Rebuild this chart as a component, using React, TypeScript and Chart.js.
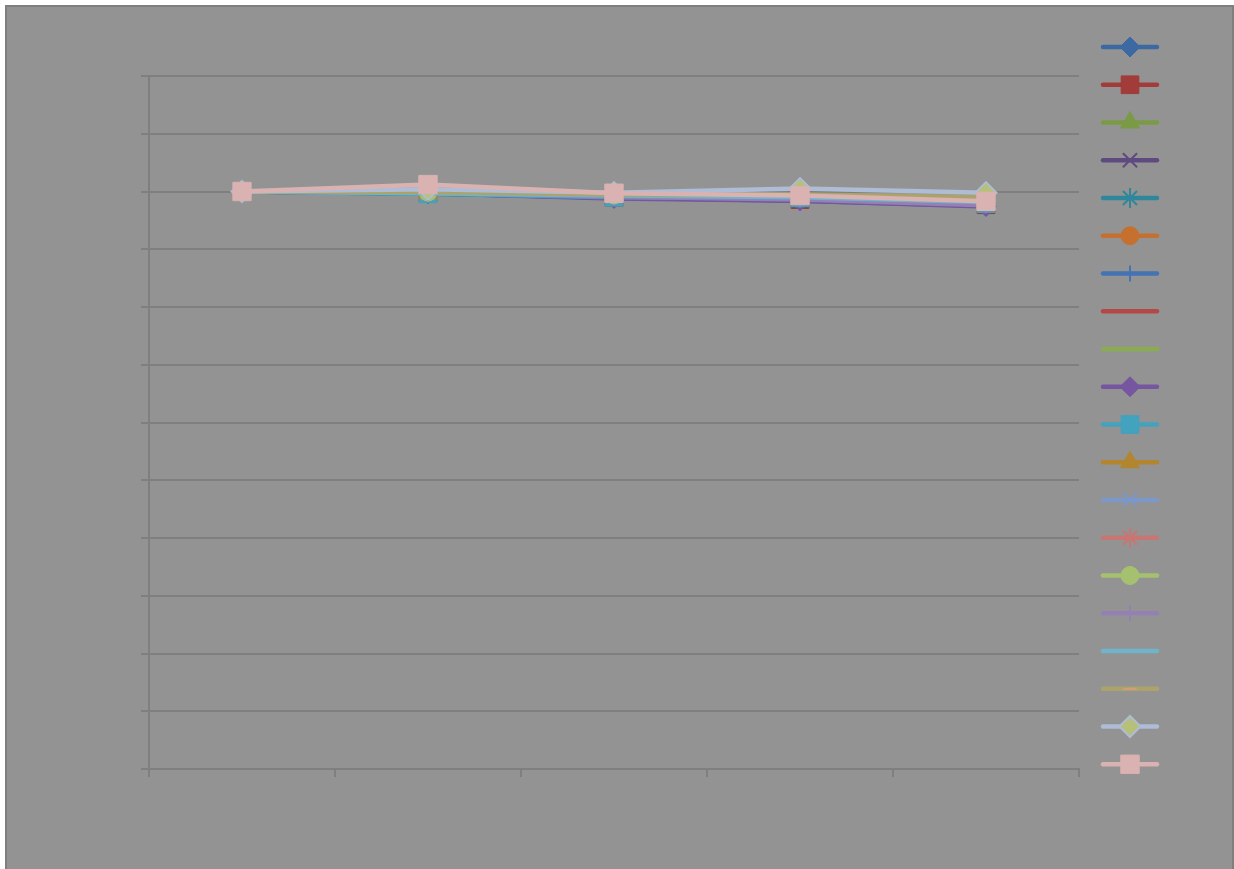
import React, { useEffect, useRef } from "react";
import { Chart, registerables } from "chart.js";
import { drawPoint } from "chart.js/helpers";

Chart.register(...registerables);

const categories = ["1", "2", "3", "4", "5"];

const s1 = [1.0, 0.997, 0.989, 0.984, 0.975];
const s2 = [1.0, 0.998, 0.99, 0.986, 0.977];
const s3 = [1.0, 0.996, 0.991, 0.99, 0.98];
const s4 = [1.0, 0.997, 0.989, 0.985, 0.976];
const s5 = [1.0, 0.996, 0.99, 0.988, 0.978];
const s6 = [1.0, 0.998, 0.992, 0.99, 0.98];
const s7 = [1.0, 0.997, 0.99, 0.987, 0.977];
const s8 = [1.0, 0.998, 0.991, 0.988, 0.978];
const s9 = [1.0, 0.997, 0.992, 0.99, 0.981];
const s10 = [1.0, 0.997, 0.988, 0.984, 0.974];
const s11 = [1.0, 0.996, 0.99, 0.989, 0.979];
const s12 = [1.0, 0.998, 0.993, 0.992, 0.985];
const s13 = [1.0, 0.998, 0.992, 0.991, 0.983];
const s14 = [1.0, 0.999, 0.993, 0.992, 0.984];
const s15 = [1.0, 0.999, 0.994, 0.994, 0.988];
const s16 = [1.0, 0.998, 0.991, 0.986, 0.976];
const s17 = [1.0, 0.997, 0.993, 0.99, 0.982];
const s18 = [1.0, 0.999, 0.995, 0.995, 0.99];
const s19 = [1.0, 1.004, 0.998, 1.005, 0.998];
const s20 = [1.0, 1.012, 0.997, 0.993, 0.983];

const seriesValues = [s1, s2, s3, s4, s5, s6, s7, s8, s9, s10, s11, s12, s13, s14, s15, s16, s17, s18, s19, s20];
const seriesNames = seriesValues.map((_, i) => "Series" + (i + 1));

const yMin = 0;
const yMax = 1.2;
const yStep = 0.1;

type Sty = { line: string; fill: string; edge: string; marker: string | false; r: number; bw: number };
const styles: Sty[] = [
  { line: "#3d69a2", fill: "#3d69a2", edge: "#3d69a2", marker: "rectRot", r: 10, bw: 1 },
  { line: "#a23c3a", fill: "#a23c3a", edge: "#a23c3a", marker: "rect", r: 12.5, bw: 1 },
  { line: "#7b9a45", fill: "#7b9a45", edge: "#7b9a45", marker: "triangle", r: 11, bw: 1 },
  { line: "#5f4a80", fill: "#5f4a80", edge: "#5f4a80", marker: "crossRot", r: 10, bw: 2 },
  { line: "#2f879b", fill: "#2f879b", edge: "#2f879b", marker: "star", r: 10, bw: 2 },
  { line: "#c6702f", fill: "#c6702f", edge: "#c6702f", marker: "circle", r: 9, bw: 1 },
  { line: "#4473b4", fill: "#4473b4", edge: "#4473b4", marker: "cross", r: 8, bw: 2 },
  { line: "#b34846", fill: "#b34846", edge: "#b34846", marker: false, r: 0, bw: 0 },
  { line: "#8aac50", fill: "#8aac50", edge: "#8aac50", marker: false, r: 0, bw: 0 },
  { line: "#7656a0", fill: "#7656a0", edge: "#7656a0", marker: "rectRot", r: 10, bw: 1 },
  { line: "#43a2bd", fill: "#43a2bd", edge: "#43a2bd", marker: "rect", r: 12.5, bw: 1 },
  { line: "#b1862f", fill: "#b1862f", edge: "#b1862f", marker: "triangle", r: 11, bw: 1 },
  { line: "#7b98c8", fill: "#7b98c8", edge: "#7b98c8", marker: "crossRot", r: 10, bw: 2 },
  { line: "#c87673", fill: "#c87673", edge: "#c87673", marker: "star", r: 10, bw: 2 },
  { line: "#a5c16f", fill: "#a5c16f", edge: "#a5c16f", marker: "circle", r: 9, bw: 1 },
  { line: "#9481b3", fill: "#9481b3", edge: "#9481b3", marker: "cross", r: 8, bw: 2 },
  { line: "#6fb4cb", fill: "#6fb4cb", edge: "#6fb4cb", marker: false, r: 0, bw: 0 },
  { line: "#aca36a", fill: "#d69c7a", edge: "#d69c7a", marker: "line", r: 6.5, bw: 2 },
  { line: "#aebcd6", fill: "#b6c078", edge: "#aebcd6", marker: "rectRot", r: 10.5, bw: 2 },
  { line: "#d9b2b1", fill: "#d9b2b1", edge: "#d9b2b1", marker: "rect", r: 13, bw: 1 },
];

const legendPlugin = {
  id: "excelLegend",
  afterDraw(chart: any) {
    const ctx = chart.ctx as CanvasRenderingContext2D;
    const x0 = 1096;
    const x1 = 1150;
    const xc = (x0 + x1) / 2;
    const y0 = 40;
    const dy = 37.75;
    ctx.save();
    styles.forEach((s, i) => {
      const y = y0 + i * dy;
      ctx.beginPath();
      ctx.lineCap = "round";
      ctx.lineWidth = 4.5;
      ctx.strokeStyle = s.line;
      ctx.moveTo(x0, y);
      ctx.lineTo(x1, y);
      ctx.stroke();
      if (s.marker) {
        ctx.lineCap = "butt";
        ctx.fillStyle = s.fill;
        ctx.strokeStyle = s.edge;
        ctx.lineWidth = s.bw;
        drawPoint(ctx, { pointStyle: s.marker as any, rotation: 0, radius: s.r, borderWidth: s.bw }, xc, y);
      }
    });
    ctx.restore();
  },
};

export default function App() {
  const ref = useRef<HTMLCanvasElement | null>(null);
  useEffect(() => {
    if (!ref.current) return;
    const gridColor = "#7f7f7f";
    const n = seriesValues.length;
    const chart = new Chart(ref.current, {
      type: "line",
      data: {
        labels: categories,
        datasets: seriesValues.map((vals, i) => {
          const s = styles[i];
          return {
            label: seriesNames[i],
            data: vals,
            order: n - 1 - i,
            borderColor: s.line,
            backgroundColor: s.fill,
            borderWidth: 4.5,
            tension: 0,
            pointStyle: s.marker || "circle",
            pointRadius: s.marker ? s.r : 0,
            pointBorderWidth: s.bw,
            pointBackgroundColor: s.fill,
            pointBorderColor: s.edge,
            pointHoverRadius: s.marker ? s.r : 0,
          } as any;
        }),
      },
      options: {
        animation: false,
        responsive: false,
        maintainAspectRatio: false,
        layout: { padding: { top: 69, left: 134, right: 153, bottom: 100 } },
        plugins: { legend: { display: false }, tooltip: { enabled: false }, title: { display: false } },
        scales: {
          x: {
            type: "category",
            offset: true,
            grid: { offset: true, drawOnChartArea: false, drawTicks: true, tickLength: 8, color: gridColor, lineWidth: 2 },
            border: { display: true, color: gridColor, width: 2 },
            ticks: { display: false },
          },
          y: {
            min: yMin,
            max: yMax,
            ticks: { display: false, stepSize: yStep },
            grid: { color: gridColor, lineWidth: 2, drawTicks: true, tickLength: 8 },
            border: { display: true, color: gridColor, width: 2 },
          },
        },
      } as any,
      plugins: [legendPlugin],
    });
    return () => chart.destroy();
  }, []);
  return (
    <div
      style={{
        position: "absolute",
        left: 5,
        top: 5,
        width: 1225,
        height: 870,
        border: "2px solid #7f7f7f",
        background: "#939393",
        overflow: "hidden",
      }}
    >
      <canvas ref={ref} width={1225} height={870} style={{ display: "block", width: 1225, height: 870 }} />
    </div>
  );
}
